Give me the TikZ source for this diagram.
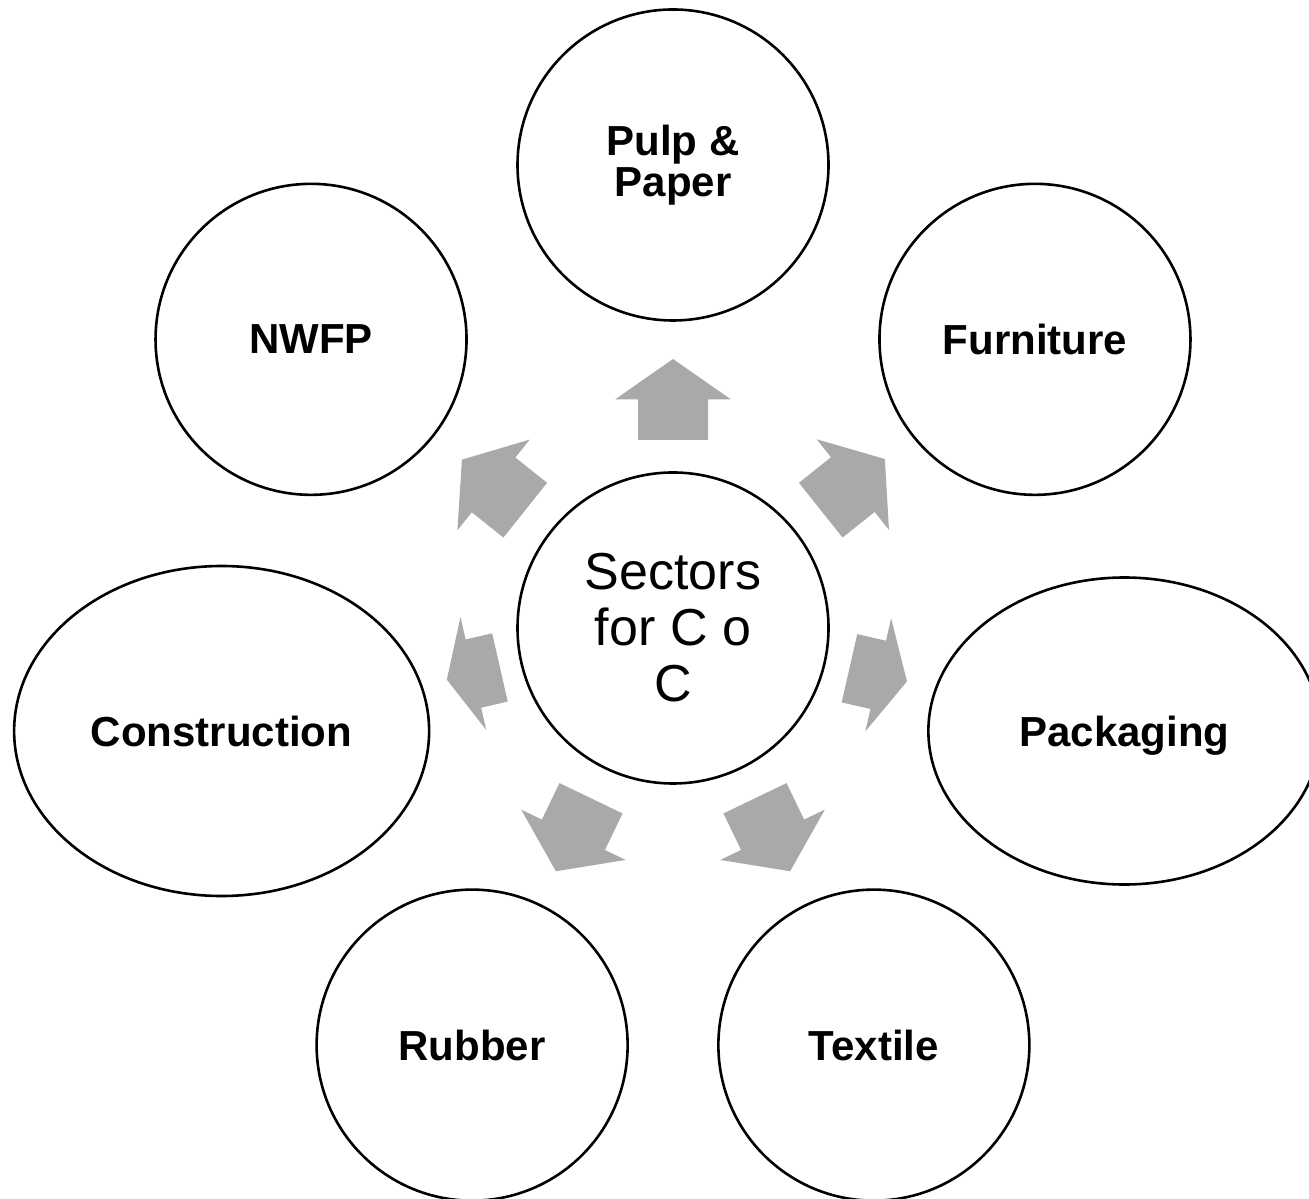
\documentclass[tikz,border=0pt]{standalone}
\usepackage{fontspec}
\setmainfont{Liberation Sans}
\usetikzlibrary{shapes.geometric}
\definecolor{arrowfill}{RGB}{169,169,169}
\newcommand\radarrow[3]{%
  \begin{scope}[shift={(c.center)}, rotate=#1]
    \pgfmathsetmacro\hb{#3-(#3-#2)/2}
    \fill[arrowfill] (#2,-35) -- (\hb,-35) -- (\hb,-58) -- (#3,0) -- (\hb,58) -- (\hb,35) -- (#2,35) -- cycle;
  \end{scope}}
\tikzset{
  ring/.style={circle, draw=black, line width=2.6pt, fill=white, inner sep=0pt, minimum size=311pt,
    align=center, font=\bfseries\fontsize{42}{41}\selectfont},
  oval/.style={ellipse, draw=black, line width=2.6pt, fill=white, inner sep=0pt,
    align=center, font=\bfseries\fontsize{42}{41}\selectfont, text depth=0pt},
  hub/.style={circle, draw=black, line width=2.6pt, fill=white, inner sep=0pt, minimum size=311pt,
    align=center, font=\fontsize{52}{56}\selectfont}
}
\begin{document}
\begin{tikzpicture}[x=1pt,y=1pt]
  \useasboundingbox (0,0) rectangle (1309,1199);
  \fill[white] (0,0) rectangle (1309,1199);
  \clip (0,0) rectangle (1309,1199);
  \node[hub] (c) at (673,571) {Sectors\\for C o\\C};
  \path (c.center) ++(90:463) node[ring] (pulp) {Pulp \&\\Paper};
  \path (c.center) ++(38.571:463) node[ring, text depth=0pt] (furn) {Furniture};
  \path (c.center) ++(-12.857:463) node[oval, minimum width=392pt, minimum height=307pt] (pack) {Packaging};
  \path (c.center) ++(-64.286:463) node[ring] (text) {Textile};
  \path (c.center) ++(-115.714:463) node[ring] (rub) {Rubber};
  \path (c.center) ++(-167.143:463) node[oval, minimum width=415pt, minimum height=330pt] (cons) {Construction};
  \path (c.center) ++(141.429:463) node[ring] (nwfp) {NWFP};
  \radarrow{90}{188}{269}
  \radarrow{38.571}{189}{271}
  \radarrow{-12.857}{181}{240}
  \radarrow{-64.286}{189}{270}
  \radarrow{-115.714}{189}{270}
  \radarrow{-167.143}{177.5}{232}
  \radarrow{141.429}{189}{270}
\end{tikzpicture}
\end{document}
